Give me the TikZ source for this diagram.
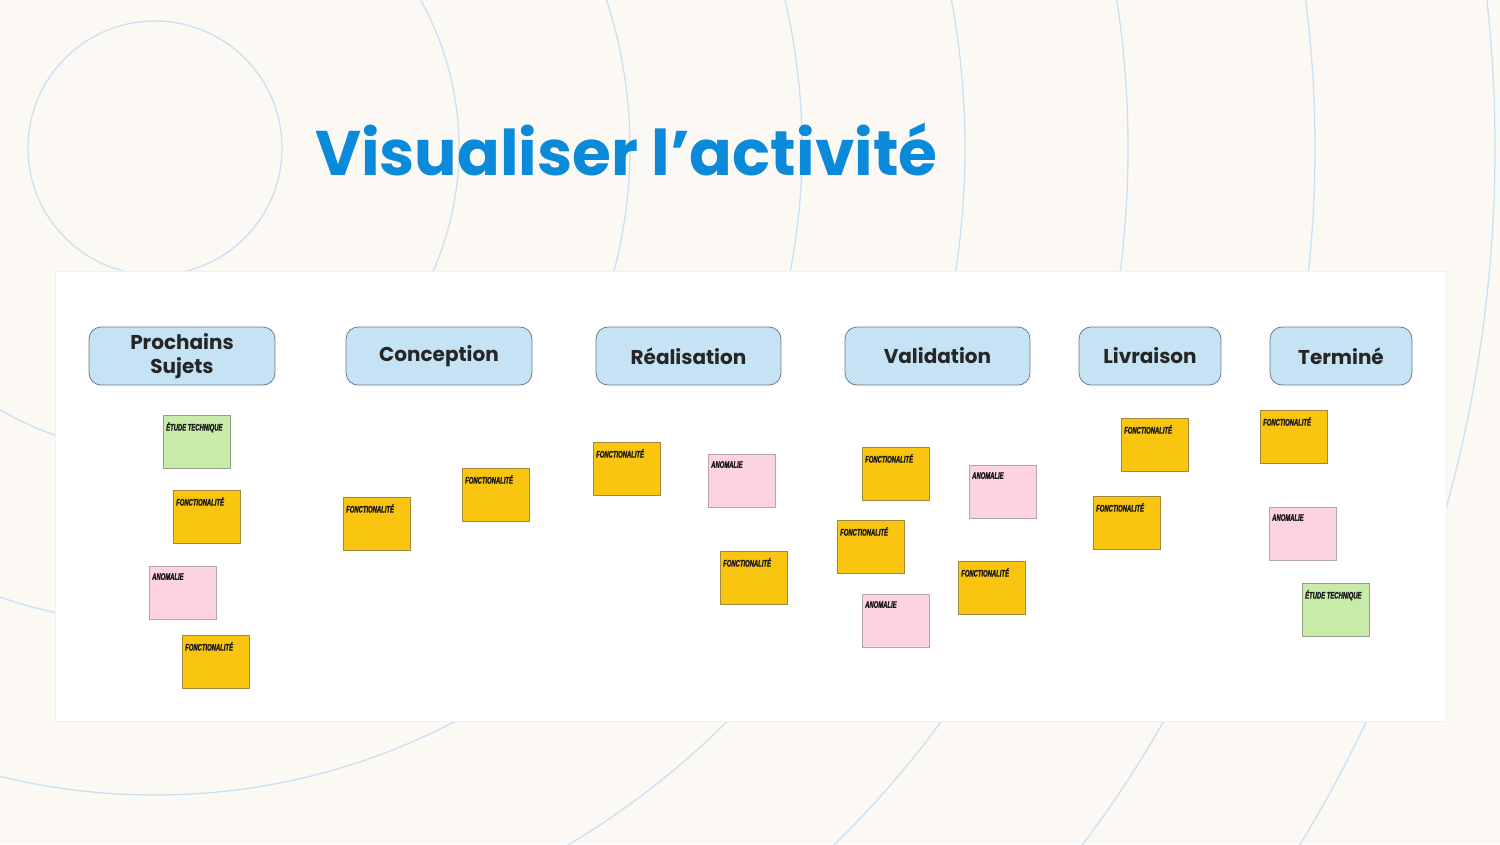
\documentclass[tikz,border=0pt]{standalone}
\usepackage{fontspec}
\setmainfont{Poppins}
\newfontfamily\notefont[FakeStretch=0.62,FakeBold=1.6]{Liberation Sans}
\definecolor{bgcream}{HTML}{FCF9F4}
\definecolor{ringblue}{HTML}{C9E0F5}
\definecolor{titleblue}{HTML}{0A8AD8}
\definecolor{headfill}{HTML}{C6E2F5}
\definecolor{headline}{HTML}{6F7B84}
\definecolor{yellowc}{HTML}{F9C510}
\definecolor{pinkc}{HTML}{FDD3E3}
\definecolor{greenc}{HTML}{C8EBAA}
\tikzset{
  ring/.style={draw=ringblue,line width=1.3pt},
  header/.style={draw=headline,fill=headfill,rounded corners=12pt,line width=0.8pt,
    minimum height=58pt,align=center,font=\fontsize{20}{23.5}\selectfont\bfseries,text=black!85},
  notetxt/.style={anchor=north west,inner sep=0pt,xshift=3pt,yshift=-7pt,
    font=\notefont\fontsize{9.5}{10}\selectfont\bfseries\itshape,text=black!90},
  note/.style={anchor=north west,minimum width=67pt,minimum height=53pt,inner sep=0pt,line width=0.9pt},
  fonct/.style={note,fill=yellowc,draw=yellowc!55!black!80,label={[notetxt]north west:FONCTIONALITÉ}},
  anomalie/.style={note,fill=pinkc,draw=pinkc!60!black!70,label={[notetxt]north west:ANOMALIE}},
  etude/.style={note,fill=greenc,draw=greenc!55!black!75,label={[notetxt]north west:ÉTUDE TECHNIQUE}},
}
\begin{document}
\begin{tikzpicture}[x=1pt,y=-1pt]
\useasboundingbox (0,0) rectangle (1500,844);
\fill[bgcream] (0,0) rectangle (1500,844);
\begin{scope}
\clip (0,0) rectangle (1500,844);
\draw[ring] (155,148) circle (127);
\draw[ring] (155,148) circle (304);
\draw[ring] (155,148) circle (475);
\draw[ring] (155,148) circle (647);
\draw[ring] (155,148) circle (810);
\draw[ring] (155,148) circle (973);
\draw[ring] (155,148) circle (1160);
\draw[ring] (155,148) circle (1340);
\end{scope}
% title
\node[anchor=base west,inner sep=0pt,text=titleblue,font=\fontsize{63}{72}\selectfont\bfseries] (title) at (315,175) {Visualiser l’activité};
% board
\draw[fill=white,draw=black!6] (55,271) rectangle (1446,721);
\node[header,minimum width=186pt] (h1) at (182,356) {Prochains\\Sujets};
\node[header,minimum width=186pt] (h2) at (439,356) {Conception};
\node[header,minimum width=185pt] (h3) at (688.5,356) {Réalisation};
\node[header,minimum width=185pt] (h4) at (937.5,356) {Validation};
\node[header,minimum width=142pt] (h5) at (1150,356) {Livraison};
\node[header,minimum width=142pt] (h6) at (1341,356) {Terminé};
% prochains sujets
\node[etude]    (p1) at (163,415) {};
\node[fonct]    (p2) at (173,490) {};
\node[anomalie] (p3) at (149,566) {};
\node[fonct]    (p4) at (182,635) {};
% conception
\node[fonct]    (c1) at (343,497) {};
\node[fonct]    (c2) at (462,468) {};
% realisation
\node[fonct]    (r1) at (593,442) {};
\node[anomalie] (r2) at (708,454) {};
\node[fonct]    (r3) at (720,551) {};
% validation
\node[fonct]    (v1) at (862,447) {};
\node[anomalie] (v2) at (969,465) {};
\node[fonct]    (v3) at (837,520) {};
\node[fonct]    (v4) at (958,561) {};
\node[anomalie] (v5) at (862,594) {};
% livraison
\node[fonct]    (l1) at (1121,418) {};
\node[fonct]    (l2) at (1093,496) {};
% termine
\node[fonct]    (t1) at (1260,410) {};
\node[anomalie] (t2) at (1269,507) {};
\node[etude]    (t3) at (1302,583) {};
\end{tikzpicture}
\end{document}
